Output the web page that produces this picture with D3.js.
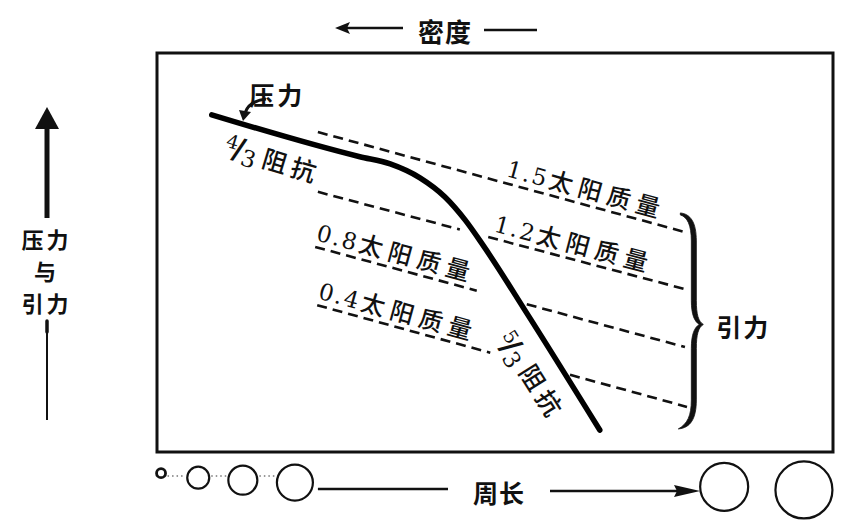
<!DOCTYPE html>
<html><head><meta charset="utf-8">
<script src="https://cdn.jsdelivr.net/npm/d3@7"></script>
<style>body{margin:0;background:#fff}svg{display:block}</style>
</head><body>
<svg id="c" width="845" height="529"></svg>
<script>
// ---- data (chart units: x = 0..100 across the frame, y = 0..100 bottom to top) ----
const pressureX = [8.1, 30.0, 34.5, 38.9, 42.6, 45.6, 48.2, 54.7, 65.5];
const pressureY = [84.5, 74.0, 72.2, 68.7, 63.9, 58.1, 51.9, 34.8, 5.5];

const massLabels = ["1.5", "1.2", "0.8", "0.4"];
const gravX0 = [23.8, 23.8, 23.4, 23.7];
const gravY0 = [80.2, 65.2, 51.4, 36.8];
const gravX1 = [78.6, 78.6, 78.1, 78.4];
const gravY1 = [54.9, 40.6, 26.3, 11.3];
const gapX0 = [null, 44.8, 47.3, 49.3];
const gapX1 = [null, 49.0, 54.7, 61.1];
const labelAt = [51.5, 49.7, 23.4, 23.7];

const starX = [0.6, 6.1, 12.7, 20.4, 83.9, 95.7];
const starR = [4.5, 11, 14.5, 18, 24, 28.5];

const topLabel = "密度";
const bottomLabel = "周长";
const leftLabel = ["压力", "与", "引力"];
const curveLabel = "压力";
const braceLabel = "引力";
const massSuffix = "太阳质量";
const slopeNum = ["4", "5"];
const slopeDen = "3";
const slopeWord = "阻抗";

// ---- scales ----
const x = d3.scaleLinear().domain([0, 100]).range([157, 833]);
const y = d3.scaleLinear().domain([0, 100]).range([452, 53]);

const svg = d3.select("#c");
const CJK = "'Noto Sans CJK SC', 'Noto Sans', sans-serif";
const SERIF = "'DejaVu Serif', 'Liberation Serif', serif";

// frame
svg.append("rect")
  .attr("x", x(0)).attr("y", y(100))
  .attr("width", x(100) - x(0)).attr("height", y(0) - y(100))
  .attr("fill", "none").attr("stroke", "#111").attr("stroke-width", 3);

// gravity dashed lines
function lineYAt(i, xv) {
  const t = (xv - gravX0[i]) / (gravX1[i] - gravX0[i]);
  return gravY0[i] + t * (gravY1[i] - gravY0[i]);
}
const seg = d3.line().x(d => x(d[0])).y(d => y(d[1]));
massLabels.forEach((m, i) => {
  let parts;
  if (gapX0[i] == null) parts = [[[gravX0[i], gravY0[i]], [gravX1[i], gravY1[i]]]];
  else parts = [
    [[gravX0[i], gravY0[i]], [gapX0[i], lineYAt(i, gapX0[i])]],
    [[gapX1[i], lineYAt(i, gapX1[i])], [gravX1[i], gravY1[i]]]
  ];
  parts.forEach(p => {
    svg.append("path").attr("d", seg(p))
      .attr("fill", "none").attr("stroke", "#111").attr("stroke-width", 2.6)
      .attr("stroke-dasharray", "10,6");
  });
  const ang = Math.atan2(y(gravY1[i]) - y(gravY0[i]), x(gravX1[i]) - x(gravX0[i])) * 180 / Math.PI;
  const px = x(labelAt[i]), py = y(lineYAt(i, labelAt[i])) - 7;
  const t = svg.append("text").attr("transform", `translate(${px},${py}) rotate(${ang})`)
    .attr("fill", "#111");
  t.append("tspan").attr("font-family", SERIF).attr("font-size", 23)
    .attr("letter-spacing", 2).text(m);
  t.append("tspan").attr("font-family", CJK).attr("font-size", 24).attr("font-weight", 500)
    .attr("letter-spacing", 6).attr("dx", 1).text(massSuffix);
});

// pressure curve
const curve = d3.line().x(i => x(pressureX[i])).y(i => y(pressureY[i])).curve(d3.curveMonotoneX);
svg.append("path").attr("d", curve(d3.range(pressureX.length)))
  .attr("fill", "none").attr("stroke", "#000").attr("stroke-width", 5.5)
  .attr("stroke-linecap", "round").attr("stroke-linejoin", "round");

// slope labels (4/3, 5/3 阻抗)
function slopeLabel(num, cx, cy, ang, cjkDy) {
  const g = svg.append("g").attr("transform", `translate(${cx},${cy}) rotate(${ang})`).attr("fill", "#111");
  g.append("text").attr("x", 0).attr("y", 0).attr("text-anchor", "middle").attr("dominant-baseline", "central")
    .attr("font-family", SERIF).attr("font-size", 19).text(num);
  g.append("text").attr("x", 8).attr("y", 5).attr("text-anchor", "middle").attr("dominant-baseline", "central")
    .attr("font-family", SERIF).attr("font-weight", 700).attr("font-size", 30).text("/");
  g.append("text").attr("x", 20).attr("y", 12).attr("text-anchor", "middle").attr("dominant-baseline", "central")
    .attr("font-family", SERIF).attr("font-size", 23).text(slopeDen);
  slopeWord.split("").forEach((ch, k) => {
    g.append("text").attr("x", 46 + k * 30).attr("y", cjkDy).attr("text-anchor", "middle")
      .attr("dominant-baseline", "central").attr("font-family", CJK).attr("font-weight", 500)
      .attr("font-size", 25).text(ch);
  });
}
const a1 = Math.atan2(y(pressureY[1]) - y(pressureY[0]), x(pressureX[1]) - x(pressureX[0])) * 180 / Math.PI;
const a2 = Math.atan2(y(pressureY[8]) - y(pressureY[6]), x(pressureX[8]) - x(pressureX[6])) * 180 / Math.PI;
slopeLabel(slopeNum[0], x(11.2), y(77.8), a1 + 1, 5);
slopeLabel(slopeNum[1], x(52.4), y(28.9), a2, 2);

// "压力" callout
svg.append("text").attr("x", x(17.8)).attr("y", y(89.6)).attr("text-anchor", "middle")
  .attr("dominant-baseline", "central").attr("font-family", CJK).attr("font-weight", 700)
  .attr("font-size", 25).attr("letter-spacing", 3).attr("fill", "#111").text(curveLabel);
svg.append("path").attr("d", "M266,99 Q249,101 245,113")
  .attr("fill", "none").attr("stroke", "#111").attr("stroke-width", 3);
svg.append("path").attr("d", "M239,110 L251,112 L243,121 Z").attr("fill", "#111");

// brace
(function () {
  const xe = x(gravX1[0]) - 8;
  const yt = y(gravY1[0]) - 20, yb = y(gravY1[3]) + 21;
  const ym = (yt + yb) / 2 + 4;
  const so = xe + 16, si = xe + 11, tip = xe + 23;
  const d = `M${xe},${yt}
    C${xe + 10},${yt + 1} ${so},${yt + 9} ${so},${yt + 28}
    L${so},${ym - 24}
    C${so},${ym - 10} ${so + 2},${ym - 3} ${tip},${ym}
    C${so + 2},${ym + 3} ${so},${ym + 10} ${so},${ym + 24}
    L${so},${yb - 28}
    C${so},${yb - 9} ${xe + 10},${yb} ${xe - 2},${yb + 1}
    C${xe + 7},${yb - 4} ${si},${yb - 12} ${si},${yb - 28}
    L${si},${ym + 24}
    C${si},${ym + 10} ${si + 3},${ym + 3} ${tip - 4},${ym}
    C${si + 3},${ym - 3} ${si},${ym - 10} ${si},${ym - 24}
    L${si},${yt + 28}
    C${si},${yt + 12} ${xe + 7},${yt + 4} ${xe},${yt + 2} Z`;
  svg.append("path").attr("d", d).attr("fill", "#111").attr("stroke", "#111").attr("stroke-width", 0.8);
  svg.append("text").attr("x", tip + 13).attr("y", ym + 2).attr("dominant-baseline", "central")
    .attr("font-family", CJK).attr("font-weight", 700).attr("font-size", 25)
    .attr("letter-spacing", 2).attr("fill", "#111").text(braceLabel);
})();

// top axis label
svg.append("text").attr("x", 445).attr("y", 30).attr("text-anchor", "middle")
  .attr("dominant-baseline", "central").attr("font-family", CJK).attr("font-weight", 700)
  .attr("font-size", 26).attr("letter-spacing", 1).attr("fill", "#111").text(topLabel);
svg.append("line").attr("x1", 403).attr("y1", 28).attr("x2", 346).attr("y2", 28)
  .attr("stroke", "#111").attr("stroke-width", 2.5);
svg.append("path").attr("d", "M335,28 L350,22 L347,28 L350,34 Z").attr("fill", "#111");
svg.append("line").attr("x1", 484).attr("y1", 30).attr("x2", 537).attr("y2", 30)
  .attr("stroke", "#111").attr("stroke-width", 2.5);

// left axis label
svg.append("path").attr("d", "M47,107 L59,129 L35,129 Z").attr("fill", "#111");
svg.append("line").attr("x1", 47).attr("y1", 126).attr("x2", 47).attr("y2", 218)
  .attr("stroke", "#111").attr("stroke-width", 5);
leftLabel.forEach((s, i) => {
  svg.append("text").attr("x", 45).attr("y", 238 + i * 32).attr("text-anchor", "middle")
    .attr("dominant-baseline", "central").attr("font-family", CJK).attr("font-weight", 700)
    .attr("font-size", 22).attr("letter-spacing", 3).attr("dx", 1.5).attr("fill", "#111").text(s);
});
svg.append("line").attr("x1", 47).attr("y1", 322).attr("x2", 47).attr("y2", 420)
  .attr("stroke", "#111").attr("stroke-width", 2);
svg.append("line").attr("x1", 47).attr("y1", 321).attr("x2", 47).attr("y2", 332)
  .attr("stroke", "#111").attr("stroke-width", 3.5).attr("stroke-linecap", "round");

// bottom: stars of growing size
const starY = r => 470 + 0.7 * r;
starX.forEach((sx, i) => {
  svg.append("circle").attr("cx", x(sx)).attr("cy", starY(starR[i])).attr("r", starR[i])
    .attr("fill", "none").attr("stroke", "#111").attr("stroke-width", i === 0 ? 2.8 : 2.2);
});
for (let i = 0; i < 3; i++) {
  svg.append("line")
    .attr("x1", x(starX[i]) + starR[i] + 2).attr("x2", x(starX[i + 1]) - starR[i + 1] - 2)
    .attr("y1", 476).attr("y2", 476)
    .attr("stroke", "#777").attr("stroke-width", 1.3).attr("stroke-dasharray", "1.5,3");
}
svg.append("line").attr("x1", x(starX[3]) + starR[3] + 5).attr("x2", 448).attr("y1", 489).attr("y2", 489)
  .attr("stroke", "#111").attr("stroke-width", 2.5);
svg.append("text").attr("x", 499).attr("y", 492).attr("text-anchor", "middle")
  .attr("dominant-baseline", "central").attr("font-family", CJK).attr("font-weight", 700)
  .attr("font-size", 25).attr("letter-spacing", 1).attr("fill", "#111").text(bottomLabel);
svg.append("line").attr("x1", 550).attr("x2", 680).attr("y1", 491).attr("y2", 491)
  .attr("stroke", "#111").attr("stroke-width", 2.5);
svg.append("path").attr("d", `M${x(starX[4]) - starR[4]},491 L674,485 L677,491 L674,497 Z`).attr("fill", "#111");
</script>
</body></html>
